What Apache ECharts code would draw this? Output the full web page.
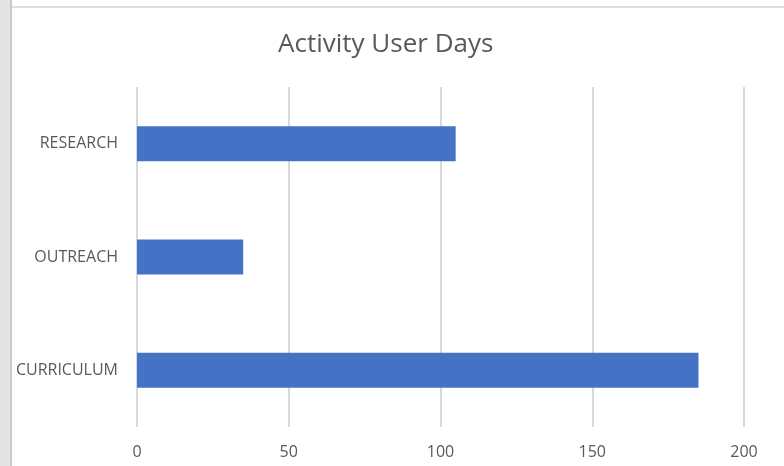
<!DOCTYPE html>
<html>
<head>
<meta charset="utf-8">
<script src="https://cdn.jsdelivr.net/npm/echarts@6/dist/echarts.min.js"></script>
<style>
  html, body { margin: 0; padding: 0; background: #fff; }
  #wrap { position: relative; width: 784px; height: 466px; overflow: hidden; }
  #side { position: absolute; left: 0; top: 0; width: 10px; height: 466px; background: #e4e4e4; border-right: 2px solid #c9c9c9; }
  #topline { position: absolute; left: 12px; top: 6px; right: 0; height: 2px; background: #dedede; }
  #main { position: absolute; left: 0; top: 0; width: 784px; height: 466px; }
</style>
</head>
<body>
<div id="wrap">
  <div id="main"></div>
  <div id="side"></div>
  <div id="topline"></div>
</div>
<script>
// 类别和数值
const categories = ["CURRICULUM", "OUTREACH", "RESEARCH"];
const userDays = [185, 35, 105];
const xTicks = [0, 50, 100, 150, 200];

const chart = echarts.init(document.getElementById("main"));
const option = {
  animation: false,
  title: {
    text: "Activity User Days",
    left: 273,
    top: 27,
    textStyle: {
      color: "#595959",
      fontSize: 26,
      fontWeight: "normal",
      fontFamily: "Open Sans",
    },
  },
  grid: { left: 137, right: 40, top: 87, bottom: 39 },
  xAxis: {
    type: "value",
    min: xTicks[0],
    max: xTicks[xTicks.length - 1],
    interval: 50,
    axisLine: { show: false },
    axisTick: { show: false },
    splitLine: { lineStyle: { color: "#d9d9d9", width: 2 } },
    axisLabel: { color: "#595959", fontSize: 16, margin: 17, fontFamily: "Open Sans" },
  },
  yAxis: {
    type: "category",
    data: categories,
    axisLine: { show: false },
    axisTick: { show: false },
    axisLabel: { color: "#595959", fontSize: 16, margin: 19, fontFamily: "Open Sans" },
  },
  series: [
    {
      type: "bar",
      data: userDays,
      barWidth: 35,
      itemStyle: { color: "#4472c4" },
    },
  ],
};
chart.setOption(option);
</script>
</body>
</html>
